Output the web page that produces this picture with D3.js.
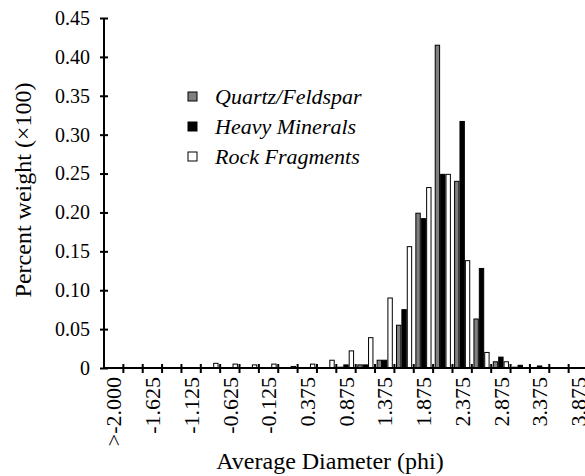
<!DOCTYPE html>
<html>
<head>
<meta charset="utf-8">
<script src="https://cdn.jsdelivr.net/npm/d3@7"></script>
<style>
  html, body { margin: 0; padding: 0; background: #fff; overflow: hidden; }
  svg text { font-family: "Liberation Serif", "DejaVu Serif", serif !important; fill: #000; }
</style>
</head>
<body>
<svg id="chart" width="585" height="476"></svg>
<script>
// ---- data ----
const categories = [">-2.000", "-1.875", "-1.625", "-1.375", "-1.125", "-0.875", "-0.625", "-0.375",
  "-0.125", "0.125", "0.375", "0.625", "0.875", "1.125", "1.375", "1.625", "1.875", "2.125",
  "2.375", "2.625", "2.875", "3.125", "3.375", "3.625", "3.875"];
const seriesNames = ["Quartz/Feldspar", "Heavy Minerals", "Rock Fragments"];
const quartz = [0, 0, 0, 0, 0, 0, 0, 0, 0, 0, 0, 0, 0.001, 0.004, 0.010,
  0.055, 0.199, 0.415, 0.240, 0.063, 0.008, 0.001, 0, 0, 0];
const heavy = [0, 0, 0, 0, 0, 0, 0, 0, 0, 0, 0, 0, 0.004, 0.004, 0.010,
  0.075, 0.192, 0.249, 0.317, 0.128, 0.014, 0.0035, 0.0026, 0, 0];
const rock = [0, 0, 0, 0, 0, 0.006, 0.005, 0.004, 0.005, 0.002, 0.005, 0.010, 0.022, 0.039, 0.090,
  0.156, 0.232, 0.249, 0.138, 0.020, 0.008, 0, 0, 0, 0];
const yTicks = [0, 0.05, 0.10, 0.15, 0.20, 0.25, 0.30, 0.35, 0.40, 0.45];
const xTickLabels = categories.filter((d, i) => i % 2 === 0);

// ---- layout ----
const fills = ["#808080", "#000000", "#ffffff"];
const serif = '"Liberation Serif", "DejaVu Serif", serif';
const svg = d3.select("#chart");
const x0 = 104, x1 = 588, yBase = 368, yTop = 18;

const x = d3.scaleBand().domain(categories).range([x0, x1]).padding(0);
const xs = d3.scaleBand().domain(seriesNames).range([1.6, x.bandwidth() - 1.6]).padding(0);
const y = d3.scaleLinear().domain([0, 0.45]).range([yBase, yTop]);

const seriesData = [quartz, heavy, rock];

// bars
seriesData.forEach((vals, si) => {
  svg.append("g").selectAll("rect")
    .data(vals.map((v, i) => ({ c: categories[i], v })).filter(d => d.v > 0))
    .join("rect")
    .attr("x", d => x(d.c) + xs(seriesNames[si]) + 0.5)
    .attr("width", xs.bandwidth() - 1)
    .attr("y", d => y(d.v))
    .attr("height", d => yBase - y(d.v))
    .attr("fill", fills[si])
    .attr("stroke", "#000")
    .attr("stroke-width", 1);
});

// y axis
const yAxis = svg.append("g").attr("transform", `translate(${x0},0)`)
  .call(d3.axisLeft(y).tickValues(yTicks)
    .tickFormat(d => d === 0 ? "0" : d3.format(".2f")(d))
    .tickSize(0).tickPadding(14));
yAxis.attr("font-family", serif);
yAxis.select(".domain").attr("stroke", "#000").attr("stroke-width", 2).attr("d", `M0,${yTop}V${yBase}`);
yAxis.selectAll(".tick line").attr("x1", -4).attr("x2", 4).attr("stroke", "#000").attr("stroke-width", 2);
yAxis.selectAll(".tick text").style("font-size", "20px").style("font-family", serif);

// x axis
const xAxis = svg.append("g").attr("transform", `translate(0,${yBase})`)
  .call(d3.axisBottom(x).tickSize(0).tickFormat(d => xTickLabels.includes(d) ? d : ""));
xAxis.attr("font-family", serif);
xAxis.select(".domain").attr("stroke", "#000").attr("stroke-width", 2).attr("d", `M${x0},0H${x1}`);
xAxis.selectAll(".tick text")
  .style("font-size", "22px").style("font-family", serif)
  .attr("transform", "rotate(-90)")
  .attr("text-anchor", "end")
  .attr("x", -9).attr("y", 0).attr("dy", "0.35em");
// boundary tick marks between bins
svg.append("g").selectAll("line")
  .data(categories.slice(1))
  .join("line")
  .attr("x1", d => x(d)).attr("x2", d => x(d))
  .attr("y1", yBase - 4).attr("y2", yBase + 5)
  .attr("stroke", "#000").attr("stroke-width", 2);

// axis titles
svg.append("text").attr("x", 330).attr("y", 469).attr("text-anchor", "middle")
  .style("font-size", "24px").style("font-family", serif).text("Average Diameter (phi)");
svg.append("text").attr("transform", "translate(31,190) rotate(-90)").attr("text-anchor", "middle")
  .style("font-size", "24px").style("font-family", serif).text("Percent weight (\u00d7100)");

// legend
const legend = svg.append("g").attr("transform", "translate(188,98)");
seriesNames.forEach((n, i) => {
  const g = legend.append("g").attr("transform", `translate(0,${i * 30})`);
  g.append("rect").attr("x", 0).attr("y", -6).attr("width", 9).attr("height", 9)
    .attr("fill", fills[i]).attr("stroke", "#000").attr("stroke-width", 1);
  g.append("text").attr("x", 27).attr("y", 6).style("font-size", "22px")
    .style("font-family", serif).style("font-style", "italic").text(n);
});
</script>
</body>
</html>
